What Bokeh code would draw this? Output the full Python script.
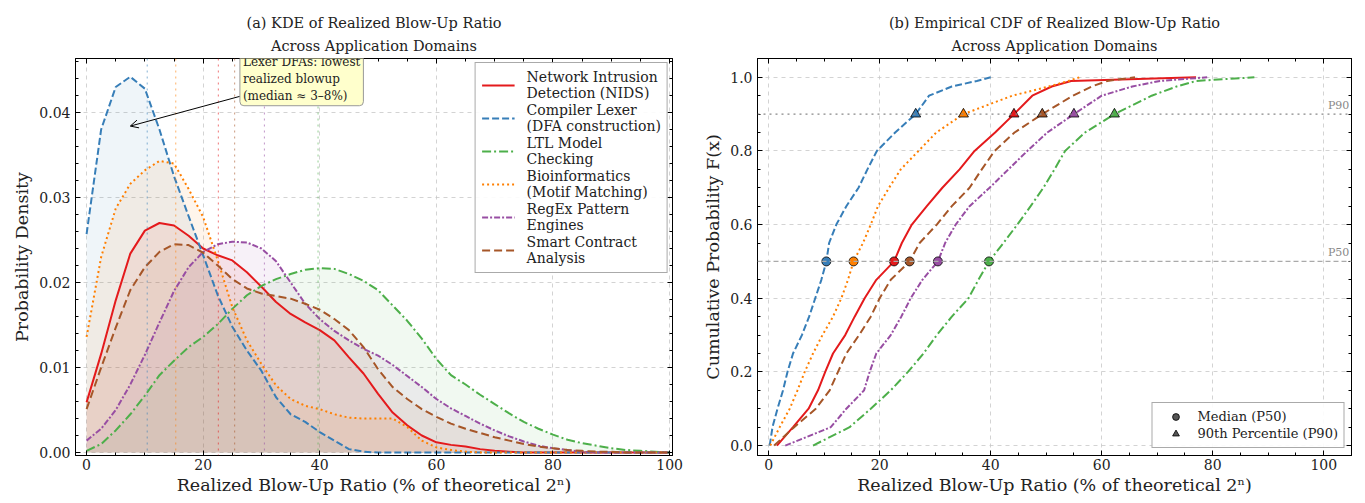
from bokeh.plotting import figure
from bokeh.layouts import row
from bokeh.models import (Title, Legend, LegendItem, Span, Label, Arrow, OpenHead,
                          LinearAxis, Range1d, SingleIntervalTicker, NumeralTickFormatter,
                          CustomJSTickFormatter)
from bokeh.embed import file_html
from bokeh.resources import INLINE

FONT = "DejaVu Serif"

# ---------------- data ----------------
domains = ["Network Intrusion\nDetection (NIDS)", "Compiler Lexer\n(DFA construction)",
           "LTL Model\nChecking", "Bioinformatics\n(Motif Matching)",
           "RegEx Pattern\nEngines", "Smart Contract\nAnalysis"]
colors = ["#e41a1c", "#377eb8", "#4daf4a", "#ff7f00", "#984ea3", "#a65628"]
dashes = ["solid", "7 3", "9 3 2 3", "2 3", "6 2 2 2", "8 4"]

# KDE evaluation grid (% of theoretical 2^n), step 2.5
kde_x = [i * 2.5 for i in range(41)]

kde_nids = [.0059, .0116, .0179, .0234, .0261, .0270, .0267, .0255, .0240, .0232,
            .0226, .0212, .0195, .0177, .0163, .0153, .0144, .0132, .0112, .0093,
            .0069, .0047, .0032, .0020, .0012, .0009, .0007, .0004, .0002, .0001,
            0, 0, 0, 0, 0, 0, 0, 0, 0, 0, 0]
kde_lexer = [.0257, .0380, .0430, .0442, .0428, .0380, .0325, .0278, .0232, .0185,
             .0148, .0120, .0096, .0065, .0045, .0036, .0024, .0014, .0004, .0001,
             0, 0, 0, 0, 0, 0, 0, 0, 0, 0, 0, 0, 0, 0, 0, 0, 0, 0, 0, 0, 0]
kde_ltl = [.0002, .0010, .0026, .0045, .0067, .0091, .0108, .0124, .0136, .0151,
           .0169, .0185, .0196, .0204, .0210, .0215, .0217, .0216, .0210, .0202,
           .0191, .0173, .0155, .0134, .0110, .0091, .0080, .0068, .0057, .0046,
           .0036, .0028, .0021, .0015, .0011, .0008, .0005, .0003, .0002, .0001, 0]
kde_bio = [.0136, .0230, .0287, .0316, .0332, .0343, .0340, .0310, .0277, .0226,
           .0171, .0132, .0104, .0079, .0063, .0055, .0051, .0045, .0041, .0040,
           .0040, .0040, .0030, .0014, .0006, .0003, .0001,
           0, 0, 0, 0, 0, 0, 0, 0, 0, 0, 0, 0, 0, 0]
kde_regex = [.0014, .0028, .0050, .0080, .0115, .0153, .0190, .0218, .0236, .0245,
             .0248, .0247, .0240, .0225, .0200, .0175, .0157, .0143, .0132, .0122,
             .0114, .0103, .0090, .0077, .0063, .0052, .0043, .0034, .0026, .0019,
             .0013, .0008, .0005, .0003, .0001, 0, 0, 0, 0, 0, 0]
kde_smart = [.0051, .0100, .0147, .0191, .0218, .0236, .0245, .0244, .0235, .0220,
             .0204, .0193, .0187, .0184, .0181, .0175, .0168, .0157, .0144, .0124,
             .0098, .0077, .0063, .0051, .0042, .0034, .0028, .0023, .0018, .0014,
             .0010, .0007, .0005, .0003, .0002, .0001, .0001, 0, 0, 0, 0]
kde_series = [kde_nids, kde_lexer, kde_ltl, kde_bio, kde_regex, kde_smart]

# Empirical CDF: quantiles at these cumulative probability levels
cdf_levels = [0.0, 0.05, 0.10, 0.15, 0.20, 0.25, 0.30, 0.35, 0.40, 0.45, 0.50,
              0.55, 0.60, 0.65, 0.70, 0.75, 0.80, 0.85, 0.90, 0.95, 0.975, 0.99, 1.0]
q_nids = [1.5, 4.4, 7.2, 8.9, 10.2, 11.6, 13.8, 15.5, 17.3, 19.4, 22.6,
          24.0, 25.8, 28.5, 31.3, 34.4, 37.1, 40.8, 44.2, 47.5, 51.0, 54.5, 77.0]
q_lexer = [0.2, 0.7, 1.6, 2.6, 3.4, 4.4, 6.0, 7.3, 8.4, 9.5, 10.4,
           10.9, 12.2, 14.0, 16.2, 17.8, 19.5, 22.8, 26.5, 28.9, 33.0, 37.5, 40.0]
q_ltl = [8.0, 14.6, 18.4, 22.0, 25.1, 27.9, 30.3, 33.0, 36.0, 37.8, 39.7,
         42.3, 44.8, 47.2, 49.5, 51.5, 53.4, 57.0, 62.3, 69.0, 73.5, 77.0, 87.5]
q_bio = [0.3, 2.0, 3.8, 5.2, 6.5, 8.0, 9.7, 11.6, 13.1, 14.3, 15.3,
         17.0, 18.4, 19.7, 21.7, 23.8, 27.0, 30.2, 35.1, 43.9, 50.5, 54.0, 56.0]
q_regex = [3.0, 11.2, 14.0, 17.2, 18.2, 19.4, 22.0, 23.9, 25.6, 27.7, 30.5,
           31.8, 33.7, 36.2, 39.8, 43.2, 46.6, 50.2, 55.0, 60.0, 65.5, 70.5, 79.0]
q_smart = [1.0, 4.6, 8.5, 11.0, 12.5, 14.0, 16.3, 18.4, 20.0, 22.0, 25.4,
           27.2, 30.3, 33.0, 36.2, 38.4, 40.7, 44.3, 49.3, 54.8, 58.2, 61.0, 66.0]
cdf_series = [q_nids, q_lexer, q_ltl, q_bio, q_regex, q_smart]

medians = [q[cdf_levels.index(0.5)] for q in cdf_series]
p90s = [q[cdf_levels.index(0.9)] for q in cdf_series]

annotation_text = "Lexer DFAs: lowest\nrealized blowup\n(median \u2248 3\u20138%)"
XLABEL = "Realized Blow-Up Ratio (% of theoretical 2\u207f)"


# ---------------- helpers ----------------
def style(p, xint, xminor, yint, yminor, yfmt, xlabel, ylabel):
    p.background_fill_color = "white"
    p.border_fill_color = "white"
    p.outline_line_color = "black"
    p.outline_line_width = 1
    p.xaxis.ticker = SingleIntervalTicker(interval=xint, num_minor_ticks=xminor)
    p.yaxis.ticker = SingleIntervalTicker(interval=yint, num_minor_ticks=yminor)
    p.yaxis.formatter = NumeralTickFormatter(format=yfmt)
    p.xaxis.axis_label = xlabel
    p.yaxis.axis_label = ylabel
    for ax in (p.xaxis[0], p.yaxis[0]):
        ax.axis_line_color = "black"
        ax.major_tick_in = 5
        ax.major_tick_out = 0
        ax.minor_tick_in = 3
        ax.minor_tick_out = 0
        ax.major_tick_line_color = "black"
        ax.minor_tick_line_color = "black"
        ax.major_label_text_font = FONT
        ax.major_label_text_font_size = "14px"
        ax.major_label_text_color = "#222222"
        ax.axis_label_text_font = FONT
        ax.axis_label_text_font_size = "17.5px"
        ax.axis_label_text_font_style = "normal"
        ax.axis_label_text_color = "#222222"
    p.xaxis.major_label_standoff = 3
    p.xaxis.axis_label_standoff = 2
    p.yaxis.major_label_standoff = 5
    p.yaxis.axis_label_standoff = 4
    for side, iv, mn in (("above", xint, xminor), ("right", yint, yminor)):
        ax = LinearAxis(ticker=SingleIntervalTicker(interval=iv, num_minor_ticks=mn),
                        formatter=CustomJSTickFormatter(code="return ''"),
                        major_label_text_font_size="1px", major_label_standoff=0,
                        major_tick_in=5, major_tick_out=0, minor_tick_in=3, minor_tick_out=0,
                        axis_line_color="black")
        p.add_layout(ax, side)
    for g in (p.xgrid[0], p.ygrid[0]):
        g.grid_line_color = "#c8c8c8"
        g.grid_line_dash = "4 4"
        g.grid_line_alpha = 0.8


def add_titles(p, l1, l2):
    p.add_layout(Title(text=l2, align="center", text_font=FONT, text_font_size="14.5px",
                       text_font_style="normal", text_color="#222222",
                       text_line_height=1.0, standoff=10), "above")
    p.add_layout(Title(text=l1, align="center", text_font=FONT, text_font_size="14.5px",
                       text_font_style="normal", text_color="#222222",
                       text_line_height=1.0, standoff=0), "above")


# ---------------- panel (a): KDE ----------------
p1 = figure(width=688, height=501, output_backend="svg", toolbar_location=None,
            x_range=Range1d(-1.9, 100.5), y_range=Range1d(-0.00035, 0.04635),
            min_border_left=75, min_border_right=16, min_border_top=58, min_border_bottom=46)
style(p1, 20, 4, 0.01, 5, "0.00", XLABEL, "Probability Density")
add_titles(p1, "(a) KDE of Realized Blow-Up Ratio", "Across Application Domains")

for d, c in zip(kde_series, colors):
    p1.varea(x=kde_x, y1=0, y2=d, fill_color=c, fill_alpha=0.08)
for m, c in zip(medians, colors):
    p1.add_layout(Span(location=m, dimension="height", line_color=c, line_alpha=0.6,
                       line_dash="dotted", line_width=1))
items = []
for d, c, dsh, name in zip(kde_series, colors, dashes, domains):
    r = p1.line(kde_x, d, line_color=c, line_width=2, line_dash=dsh)
    items.append(LegendItem(label=name, renderers=[r]))

leg1 = Legend(items=items, location="top_right", margin=4, padding=6, spacing=1,
              label_text_font=FONT, label_text_font_size="14px", label_text_color="#222222",
              glyph_width=33, label_standoff=12, border_line_color="#555555",
              background_fill_color="white", background_fill_alpha=0.9)
p1.add_layout(leg1)

p1.add_layout(Arrow(end=OpenHead(size=8, line_color="black", line_width=1),
                    x_start=26.3, y_start=0.0419, x_end=7.5, y_end=0.0384,
                    line_color="black", line_width=1))
p1.add_layout(Label(x=26.3, y=0.0471, text=annotation_text, text_font=FONT,
                    text_font_size="12px", text_color="#222222", text_baseline="top",
                    text_align="left", background_fill_color="#ffffcc",
                    background_fill_alpha=1.0, border_line_color="#999999",
                    padding=3, border_radius=4))

# ---------------- panel (b): ECDF ----------------
p2 = figure(width=669, height=501, output_backend="svg", toolbar_location=None,
            x_range=Range1d(-2, 105), y_range=Range1d(-0.027, 1.051),
            min_border_left=69, min_border_right=6, min_border_top=58, min_border_bottom=46)
style(p2, 20, 4, 0.2, 4, "0.0", XLABEL, "Cumulative Probability F(x)")
add_titles(p2, "(b) Empirical CDF of Realized Blow-Up Ratio", "Across Application Domains")

p2.add_layout(Span(location=0.9, dimension="width", line_color="#888888",
                   line_dash="dotted", line_width=1.2))
p2.add_layout(Span(location=0.5, dimension="width", line_color="#aaaaaa",
                   line_dash="5 3", line_width=1.2))
p2.add_layout(Label(x=104.6, y=0.9, text="P90", text_align="right", text_baseline="bottom",
                    y_offset=2, text_font=FONT, text_font_size="11px", text_color="#888888"))
p2.add_layout(Label(x=104.6, y=0.5, text="P50", text_align="right", text_baseline="bottom",
                    y_offset=2, text_font=FONT, text_font_size="11px", text_color="#888888"))

for q, c, dsh in zip(cdf_series, colors, dashes):
    p2.line(q, cdf_levels, line_color=c, line_width=2, line_dash=dsh)
for m, p9, c in zip(medians, p90s, colors):
    p2.scatter([m], [0.5], marker="circle", size=9, fill_color=c, line_color="black",
               line_width=0.8)
    p2.scatter([p9], [0.9], marker="triangle", size=10, fill_color=c, line_color="black",
               line_width=0.8)

# legend-only markers (placed outside the visible range)
r_med = p2.scatter([-500], [-500], marker="circle", size=9, fill_color="#555555",
                   line_color="black", line_width=0.8)
r_p90 = p2.scatter([-500], [-500], marker="triangle", size=10, fill_color="#555555",
                   line_color="black", line_width=0.8)
leg2 = Legend(items=[LegendItem(label="Median (P50)", renderers=[r_med]),
                     LegendItem(label="90th Percentile (P90)", renderers=[r_p90])],
              location="bottom_right", margin=7, padding=5, spacing=0,
              label_text_font=FONT, label_text_font_size="13px", label_text_color="#222222",
              glyph_width=36, glyph_height=17, label_height=17, label_standoff=4,
              border_line_color="#555555",
              background_fill_color="white", background_fill_alpha=0.9)
p2.add_layout(leg2)

layout = row(p1, p2)
open("out.html", "w").write(file_html(layout, INLINE))
